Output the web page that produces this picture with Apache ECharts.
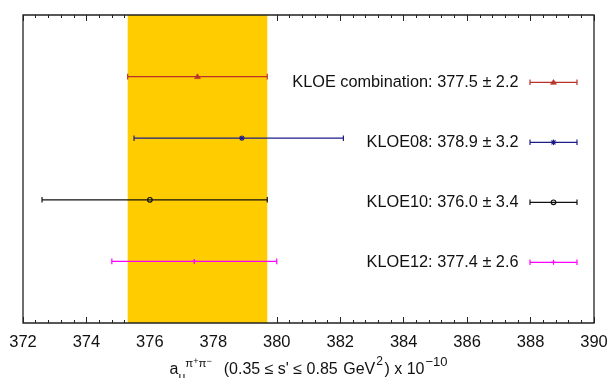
<!DOCTYPE html>
<html>
<head>
<meta charset="utf-8">
<script src="https://cdn.jsdelivr.net/npm/echarts@6/dist/echarts.min.js"></script>
<style>
  html, body { margin: 0; padding: 0; background: #fff; }
  #chart { width: 610px; height: 378px; }
</style>
</head>
<body>
<div id="chart"></div>
<script>
// Measurements of a_mu(pi+pi-) in the 0.35-0.85 GeV^2 range, units of 1e-10
const names = ['KLOE combination', 'KLOE08', 'KLOE10', 'KLOE12'];
const values = [377.5, 378.9, 376.0, 377.4];
const quotedErrors = [2.2, 3.2, 3.4, 2.6];
const barLow = [375.3, 375.5, 372.6, 374.8];
const barHigh = [379.7, 382.1, 379.7, 380.0];
const xMin = 372, xMax = 390, xStep = 2;

// per-measurement drawing style
const colors = ['#b8322a', '#1c1c88', '#111111', '#ff00ff'];
const markerKinds = ['triangle', 'star', 'circle', 'plus'];
const FONT = '"Liberation Sans", Arial, Helvetica, sans-serif';

// row position on the hidden vertical axis: first entry on top
const rows = names.map((_, i) => names.length - i);
const points = names.map((_, i) => [values[i], barLow[i], barHigh[i], rows[i]]);

function errorBar(list, x1, x2, y, color) {
  const st = { stroke: color, lineWidth: 1.2 };
  list.push({ type: 'line', shape: { x1: x1, y1: y, x2: x2, y2: y }, style: st });
  list.push({ type: 'line', shape: { x1: x1, y1: y - 2.8, x2: x1, y2: y + 2.8 }, style: st });
  list.push({ type: 'line', shape: { x1: x2, y1: y - 2.8, x2: x2, y2: y + 2.8 }, style: st });
}

function marker(list, kind, x, y, color) {
  const st = { stroke: color, lineWidth: 1.2, fill: 'none' };
  if (kind === 'triangle') {
    list.push({ type: 'polygon', shape: { points: [[x - 3, y + 2], [x + 3, y + 2], [x, y - 2.8]] },
      style: { fill: color, stroke: color, lineWidth: 0.6 } });
  } else if (kind === 'star') {
    list.push({ type: 'line', shape: { x1: x - 2.8, y1: y, x2: x + 2.8, y2: y }, style: st });
    list.push({ type: 'line', shape: { x1: x, y1: y - 2.8, x2: x, y2: y + 2.8 }, style: st });
    list.push({ type: 'line', shape: { x1: x - 2, y1: y - 2, x2: x + 2, y2: y + 2 }, style: st });
    list.push({ type: 'line', shape: { x1: x - 2, y1: y + 2, x2: x + 2, y2: y - 2 }, style: st });
  } else if (kind === 'circle') {
    list.push({ type: 'circle', shape: { cx: x, cy: y, r: 2.3 }, style: st });
  } else {
    list.push({ type: 'line', shape: { x1: x, y1: y - 2.5, x2: x, y2: y + 2.5 }, style: st });
    list.push({ type: 'line', shape: { x1: x - 2.5, y1: y, x2: x + 2.5, y2: y }, style: st });
  }
}

function renderItem(params, api) {
  const i = params.dataIndex;
  const cs = params.coordSys;
  const row = api.value(3);
  const c = api.coord([api.value(0), row]);
  const lo = api.coord([api.value(1), row]);
  const hi = api.coord([api.value(2), row]);
  const color = colors[i];
  const kids = [];
  errorBar(kids, lo[0], hi[0], c[1], color);
  marker(kids, markerKinds[i], c[0], c[1], color);

  // key entry on the right: text, then a sample of the bar and marker
  const right = cs.x + cs.width;
  const ly = cs.y + 67.3 + i * 60;
  errorBar(kids, right - 64, right - 17, ly, color);
  marker(kids, markerKinds[i], right - 40.5, ly, color);
  kids.push({
    type: 'text',
    style: {
      x: right - 75.5, y: ly,
      text: names[i] + ': ' + values[i].toFixed(1) + ' \u00b1 ' + quotedErrors[i].toFixed(1),
      align: 'right', verticalAlign: 'middle',
      fill: '#111', fontSize: 16.3, fontFamily: FONT
    }
  });
  return { type: 'group', children: kids };
}

const tickStyle = {
  axisLine: { show: false },
  splitLine: { show: false },
  axisTick: { show: true, inside: true, length: 6, lineStyle: { color: '#222', width: 1 } },
  minorTick: { show: true, splitNumber: 5, length: 3, lineStyle: { color: '#222', width: 1 } }
};

// axis title pieces; top padding sets the raise/drop of each piece
function piece(size, padTop, padLeft) {
  return { fontSize: size, fontFamily: FONT, color: '#111', verticalAlign: 'top',
    padding: [padTop, 0, 0, padLeft || 0] };
}
const titleRich = {
  a: piece(16, 8),
  sub: piece(12, 17.8),
  sp: piece(11.5, 4.55),
  ss: piece(9, 3.8),
  t: piece(16, 8, 12),
  g: piece(16, 8, 5.5),
  s2: piece(12, 2.5, 1),
  t2: piece(16, 8, 1.5),
  s3: piece(13, 2.3, 1)
};
const axisTitle = '{a|a}{sub|\u03bc}{sp|\u03c0}{ss|+}{sp|\u03c0}{ss|\u2212}' +
  '{t|(0.35 \u2264 s\' \u2264 0.85}{g|GeV}{s2|2}{t2|) x 10}{s3|\u221210}';

const chart = echarts.init(document.getElementById('chart'), null, { renderer: 'canvas' });
chart.setOption({
  backgroundColor: '#ffffff',
  animation: false,
  grid: {
    left: 23, right: 16, top: 15, bottom: 55,
    outerBoundsMode: 'none',
    containLabel: false,
    show: true, borderColor: '#222', borderWidth: 1.3,
    backgroundColor: 'transparent', z: 10
  },
  xAxis: [
    Object.assign({
      type: 'value', min: xMin, max: xMax, interval: xStep, position: 'bottom',
      axisLabel: { margin: 11, fontSize: 16.5, color: '#111', fontFamily: FONT,
        showMinLabel: true, showMaxLabel: true },
      name: axisTitle,
      nameLocation: 'middle',
      nameGap: 30,
      nameTextStyle: {
        color: '#111', fontFamily: FONT, fontSize: 16, verticalAlign: 'top',
        rich: titleRich
      }
    }, tickStyle),
    Object.assign({
      type: 'value', min: xMin, max: xMax, interval: xStep, position: 'top',
      axisLabel: { show: false }
    }, tickStyle)
  ],
  yAxis: { type: 'value', min: 0, max: names.length + 1, show: false },
  series: [
    {
      // combined-result band
      type: 'line',
      data: [],
      z: 1,
      markArea: {
        silent: true,
        itemStyle: { color: '#ffcc00', opacity: 1 },
        data: [[{ xAxis: values[0] - quotedErrors[0] }, { xAxis: values[0] + quotedErrors[0] }]]
      }
    },
    {
      type: 'custom',
      z: 3,
      renderItem: renderItem,
      data: points,
      encode: { x: [0, 1, 2], y: 3 }
    }
  ]
});
</script>
</body>
</html>
